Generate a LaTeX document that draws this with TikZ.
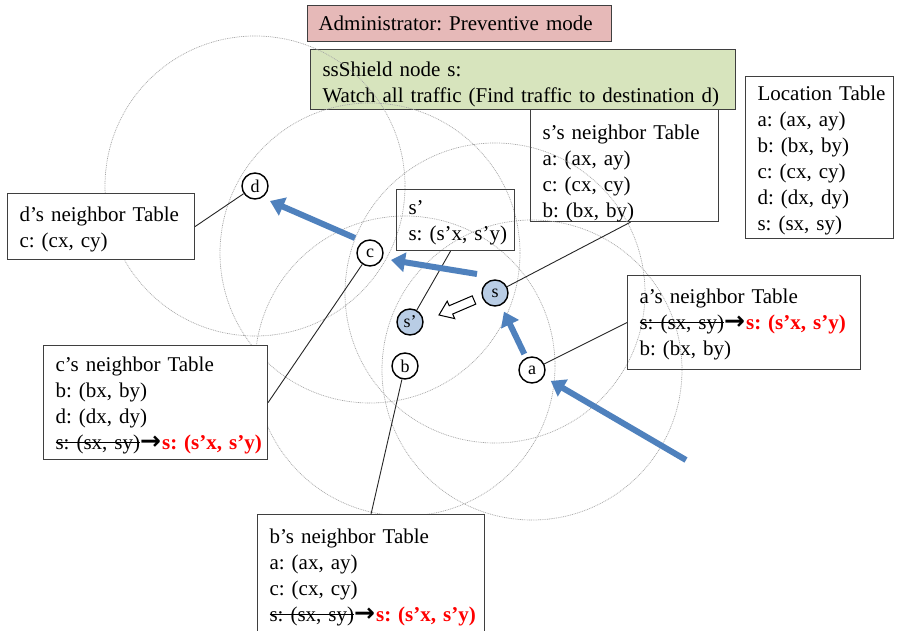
\documentclass[tikz,border=0pt]{standalone}
\usepackage{fontspec}
\setmainfont{Liberation Serif}
\newfontfamily\arrowfont{DejaVu Sans}
\usetikzlibrary{arrows.meta}
\definecolor{pinkfill}{HTML}{E6B9B8}
\definecolor{greenfill}{HTML}{D7E4BD}
\definecolor{flowblue}{HTML}{4F81BD}
\definecolor{nodeblue}{HTML}{B9CDE5}
\definecolor{boxgray}{HTML}{3F3F3F}
\definecolor{rangegray}{HTML}{A6A6A6}
\definecolor{redtext}{HTML}{FF0000}
\newsavebox\strkbox
\newcommand{\strk}[1]{\sbox\strkbox{#1}\rlap{\usebox\strkbox}\rule[0.3em]{\wd\strkbox}{1.1pt}}
\newcommand{\redpos}{\textcolor{redtext}{\textbf{s: (s’x, s’y)}}}
\newcommand{\chg}{\mbox{\strk{s: (sx, sy)}{\arrowfont\bfseries\fontsize{25}{26}\selectfont →}\hspace{1pt}\redpos}}
\newcommand{\fl}[1]{\rule{0pt}{#1pt}}
\begin{document}
\frenchspacing
\begin{tikzpicture}[x=1pt,y=-1pt,
  tbl/.style={draw=boxgray, line width=1.1pt, anchor=north west, inner xsep=12pt, inner ysep=0pt, align=left, font=\fontsize{21}{26}\selectfont\frenchspacing},
  wfill/.style={fill=white},
  nd/.style={circle, draw=black, line width=1.4pt, fill=white, minimum size=26pt, inner sep=0pt, font=\fontsize{18}{18}\selectfont},
  snd/.style={nd, fill=nodeblue},
  rangecirc/.style={draw=rangegray, line width=0.7pt, dash pattern=on 0.9pt off 0.9pt},
  link/.style={draw=black!85, line width=0.9pt},
  flow/.style={draw=flowblue, line width=6pt, -{Triangle[width=19pt,length=14pt]}},
  hollow/.style={draw=black, line width=1pt, fill=white, line join=miter}]
\useasboundingbox (0,0) rectangle (898,631);
\clip (0,0) rectangle (898,631);
\fill[white] (0,0) rectangle (898,631);
% positions
\coordinate (pd) at (255,186);
\coordinate (pc) at (370,253);
\coordinate (ps) at (495,293);
\coordinate (psp) at (410,322);
\coordinate (pb) at (405,366);
\coordinate (pa) at (532,370);
% s's table (under the green box)
\node[tbl, text width=164pt, minimum height=114pt] (stab) at (530,104)
  {\fl{34.5}\mbox{s’s neighbor Table}\\a: (ax, ay)\\c: (cx, cy)\\b: (bx, by)};
% header boxes
\node[tbl, fill=greenfill, text width=401pt, minimum height=60pt] (shield) at (310,49)
  {\fl{24.5}ssShield node s:\\\mbox{Watch all traffic (Find traffic to destination d)}};
\node[tbl, fill=pinkfill, inner xsep=11pt, text width=282pt, minimum height=36pt] (admin) at (307,5)
  {\mbox{Administrator: Preventive mode}};
% radio ranges
\foreach \p in {pd,pc,ps,pb,pa} \draw[rangecirc] (\p) circle[radius=150];
% tables
\node[tbl, text width=124pt, minimum height=162pt] (loc) at (745,76)
  {\fl{20.5}\mbox{Location Table}\\a: (ax, ay)\\b: (bx, by)\\c: (cx, cy)\\d: (dx, dy)\\s: (sx, sy)};
\node[tbl, wfill, text width=163pt, minimum height=66pt] (dtab) at (7,193)
  {\fl{20.5}\mbox{d’s neighbor Table}\\c: (cx, cy)};
\node[tbl, text width=94pt, minimum height=61pt] (sptab) at (396,189)
  {\fl{19}s’\\\mbox{s: (s’x, s’y)}};
\node[tbl, text width=209pt, minimum height=94pt] (atab) at (627,275)
  {\fl{18}\mbox{a’s neighbor Table}\\\chg\\b: (bx, by)};
\node[tbl, wfill, text width=200pt, minimum height=114pt] (ctab) at (43,345)
  {\fl{20.5}\mbox{c’s neighbor Table}\\b: (bx, by)\\d: (dx, dy)\\\chg};
\node[tbl, wfill, text width=203pt, minimum height=120pt] (btab) at (257,514)
  {\fl{19.5}\mbox{b’s neighbor Table}\\a: (ax, ay)\\c: (cx, cy)\\\chg};
% nodes
\node[nd] (d) at (pd) {d};
\node[nd] (c) at (pc) {c};
\node[snd] (s) at (ps) {s};
\node[snd] (sp) at (psp) {s’};
\node[nd] (b) at (pb) {b};
\node[nd] (a) at (pa) {a};
% links from tables to nodes
\draw[link] (dtab.east) -- (d);
\draw[link] (ctab.east) -- (c);
\draw[link] (btab.north) -- (b);
\draw[link] ([xshift=-5pt]sptab.south) -- (sp);
\draw[link] ([xshift=6pt]stab.south) -- (s);
\draw[link] (atab.west) -- (a);
% traffic flow
\coordinate (src) at (686,460);
\coordinate (sc1) at (477,274);
\coordinate (sc2) at (391,260);
\coordinate (cd1) at (355,238);
\coordinate (cd2) at (270,201);
\draw[flow, shorten >=8pt] (src) -- (a);
\draw[flow, shorten <=4pt, shorten >=7pt] (a) -- (s);
\draw[flow] (sc1) -- (sc2);
\draw[flow] (cd1) -- (cd2);
% movement of s to s'
\draw[hollow] (472.23,295.86) -- (449.18,305.74) -- (447.21,301.15) -- (439,315)
  -- (454.69,318.61) -- (452.72,314.02) -- (475.77,304.14) -- cycle;
\end{tikzpicture}
\end{document}
